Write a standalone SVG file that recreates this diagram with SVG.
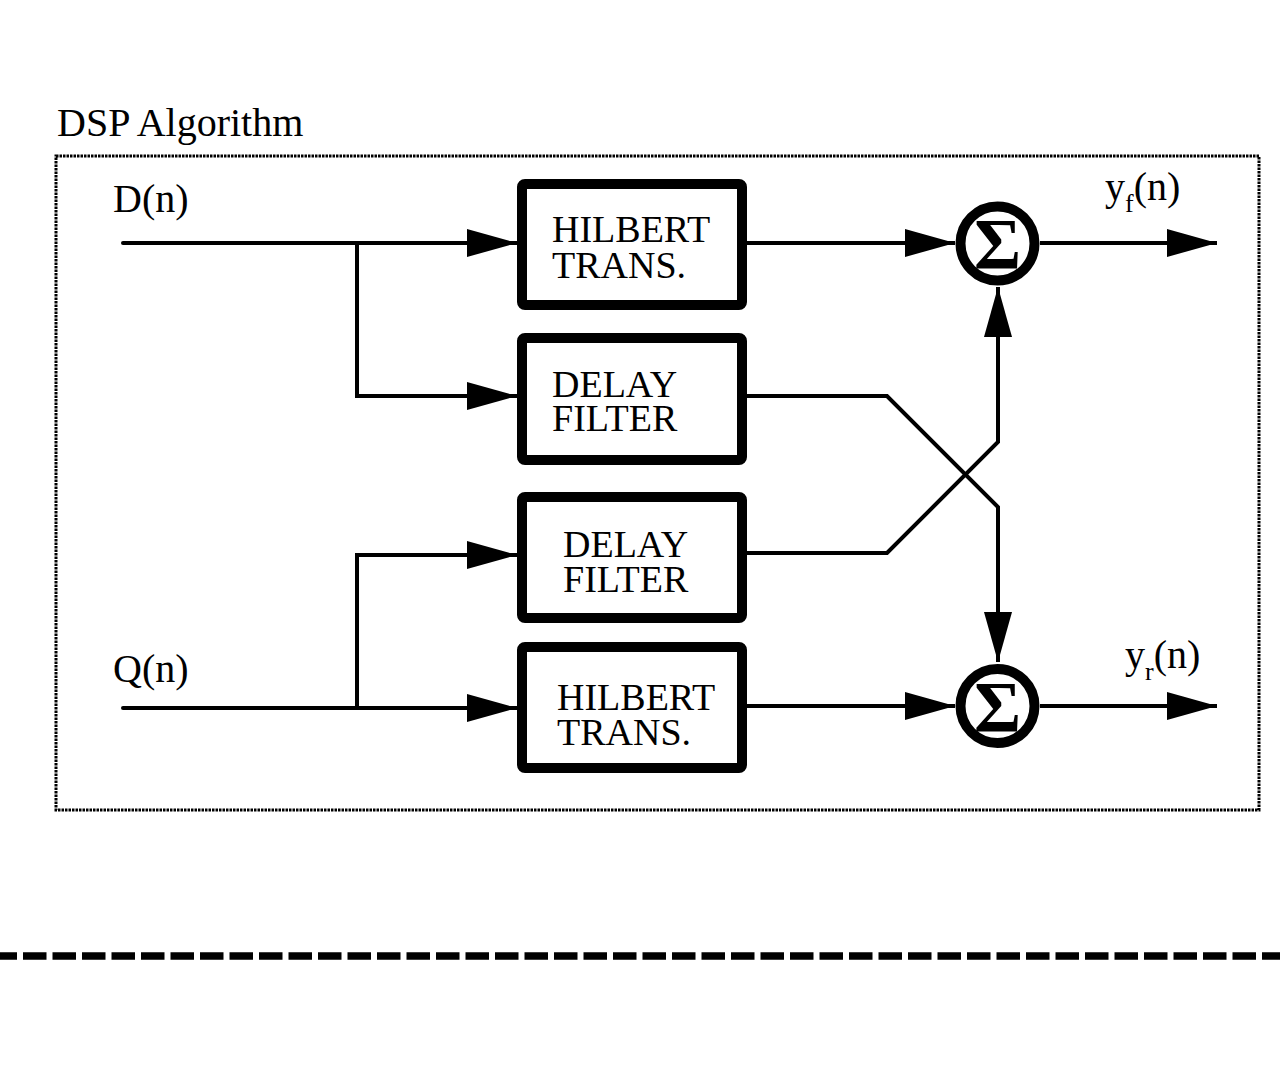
<svg xmlns="http://www.w3.org/2000/svg" width="1280" height="1080" viewBox="0 0 1280 1080">
<defs>
<style>
.lbl{font-family:"Liberation Serif","Times New Roman",serif;fill:#000}
.box{fill:#fff;stroke:#000;stroke-width:10;stroke-linejoin:round}
.wire{fill:none;stroke:#000;stroke-width:4;stroke-linejoin:miter}
.sum{fill:#fff;stroke:#000;stroke-width:10}
</style>
<marker id="ah" markerUnits="userSpaceOnUse" markerWidth="52" markerHeight="30" refX="50" refY="14" orient="auto">
<path d="M0,0 L50,14 L0,28 Z" fill="#000"/>
</marker>
</defs>
<rect width="1280" height="1080" fill="#fff"/>
<text class="lbl" x="57" y="136" font-size="40">DSP Algorithm</text>
<rect x="56" y="156" width="1203" height="654" fill="none" stroke="#000" stroke-width="3" stroke-dasharray="2.5 1"/>
<line x1="0" y1="956" x2="1280" y2="956" stroke="#000" stroke-width="7.5" stroke-dasharray="23.5 6" stroke-dashoffset="6.5"/>

<g id="connectors">
<line class="wire" x1="123" y1="243" x2="517" y2="243" marker-end="url(#ah)" stroke-linecap="round"/>
<polyline class="wire" points="357,243 357,396 517,396" marker-end="url(#ah)"/>
<line class="wire" x1="123" y1="708" x2="517" y2="708" marker-end="url(#ah)" stroke-linecap="round"/>
<polyline class="wire" points="357,708 357,555 517,555" marker-end="url(#ah)"/>
<line class="wire" x1="747" y1="243" x2="955" y2="243" marker-end="url(#ah)"/>
<line class="wire" x1="747" y1="706" x2="955" y2="706" marker-end="url(#ah)"/>
<polyline class="wire" points="747,396 887,396 998,507 998,662" marker-end="url(#ah)"/>
<polyline class="wire" points="747,553 887,553 998,442 998,287" marker-end="url(#ah)"/>
<line class="wire" x1="1040" y1="243" x2="1217" y2="243" marker-end="url(#ah)"/>
<line class="wire" x1="1040" y1="706" x2="1217" y2="706" marker-end="url(#ah)"/>
</g>

<g id="label-d"><text class="lbl" x="113" y="212" font-size="40">D(n)</text></g>
<g id="label-q"><text class="lbl" x="113" y="682" font-size="40">Q(n)</text></g>

<g id="hilbert1">
<rect class="box" x="522" y="184" width="220" height="121" rx="3"/>
<text class="lbl" x="552" y="242" font-size="38">HILBERT</text>
<text class="lbl" x="552" y="278" font-size="38">TRANS.</text>
</g>
<g id="delay1">
<rect class="box" x="522" y="338" width="220" height="122" rx="3"/>
<text class="lbl" x="552" y="397" font-size="38">DELAY</text>
<text class="lbl" x="552" y="431" font-size="38">FILTER</text>
</g>
<g id="delay2">
<rect class="box" x="522" y="497" width="220" height="121" rx="3"/>
<text class="lbl" x="563" y="557" font-size="38">DELAY</text>
<text class="lbl" x="563" y="592" font-size="38">FILTER</text>
</g>
<g id="hilbert2">
<rect class="box" x="522" y="647" width="220" height="121" rx="3"/>
<text class="lbl" x="557" y="710" font-size="38">HILBERT</text>
<text class="lbl" x="557" y="745" font-size="38">TRANS.</text>
</g>

<g id="sum1">
<circle class="sum" cx="997.5" cy="243.5" r="37"/>
<text class="lbl" x="997.5" y="268" font-size="72" font-weight="bold" text-anchor="middle">Σ</text>
</g>
<g id="sum2">
<circle class="sum" cx="997.5" cy="706" r="37"/>
<text class="lbl" x="997.5" y="730.5" font-size="72" font-weight="bold" text-anchor="middle">Σ</text>
</g>

<g id="label-yf"><text class="lbl" x="1105" y="200" font-size="40">y<tspan font-size="26" dy="12">f</tspan><tspan dy="-12">(n)</tspan></text></g>
<g id="label-yr"><text class="lbl" x="1125" y="668" font-size="40">y<tspan font-size="26" dy="12">r</tspan><tspan dy="-12">(n)</tspan></text></g>
</svg>
